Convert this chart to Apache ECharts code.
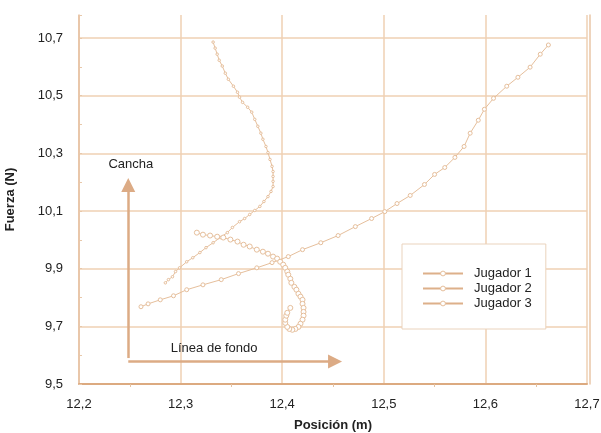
<!DOCTYPE html>
<html><head><meta charset="utf-8">
<script src="https://cdn.jsdelivr.net/npm/echarts@6/dist/echarts.min.js"></script>
<style>html,body{margin:0;padding:0;background:#fff}#c{width:601px;height:433px}</style>
</head><body><div id="c"></div>
<script>
const seriesNames = ['Jugador 1', 'Jugador 2', 'Jugador 3'];

const j1X = [12.662,12.654,12.644,12.632,12.621,12.608,12.599,12.593,12.585,12.579,12.570,12.560,12.550,12.540,12.526,12.513,12.501,12.488,12.472,12.455,12.438,12.420,12.406,12.390,12.375,12.357,12.340,12.322,12.306,12.293,12.280,12.268,12.261];
const j1Y = [10.676,10.644,10.599,10.564,10.533,10.491,10.453,10.415,10.370,10.324,10.286,10.251,10.227,10.192,10.154,10.126,10.098,10.074,10.046,10.015,9.990,9.966,9.942,9.921,9.903,9.883,9.862,9.844,9.827,9.806,9.792,9.778,9.768];

const j2X = [12.332,12.334,12.336,12.338,12.341,12.344,12.347,12.352,12.356,12.358,12.361,12.366,12.370,12.373,12.376,12.379,12.381,12.384,12.386,12.388,12.390,12.391,12.391,12.391,12.391,12.389,12.386,12.382,12.378,12.373,12.368,12.363,12.358,12.351,12.346,12.339,12.332,12.325,12.319,12.312,12.306,12.299,12.295,12.292,12.288,12.285];
const j2Y = [10.686,10.665,10.644,10.623,10.603,10.578,10.557,10.533,10.512,10.495,10.477,10.460,10.443,10.418,10.394,10.370,10.349,10.324,10.303,10.279,10.255,10.237,10.220,10.203,10.185,10.168,10.150,10.133,10.116,10.102,10.088,10.074,10.063,10.043,10.025,10.008,9.990,9.973,9.956,9.938,9.924,9.903,9.890,9.872,9.862,9.851];

const j3X = [12.316,12.322,12.329,12.336,12.342,12.349,12.356,12.362,12.368,12.375,12.381,12.386,12.391,12.395,12.398,12.401,12.403,12.405,12.406,12.408,12.409,12.412,12.414,12.416,12.418,12.420,12.420,12.421,12.421,12.421,12.420,12.418,12.416,12.413,12.410,12.407,12.405,12.403,12.403,12.404,12.405,12.408];
const j3Y = [10.025,10.018,10.015,10.011,10.008,10.001,9.994,9.983,9.977,9.966,9.959,9.952,9.942,9.935,9.924,9.914,9.903,9.890,9.879,9.865,9.851,9.837,9.827,9.813,9.803,9.792,9.778,9.764,9.750,9.737,9.723,9.709,9.698,9.691,9.688,9.691,9.698,9.712,9.723,9.737,9.747,9.764];

const xTickLabels = ['12,2','12,3','12,4','12,5','12,6','12,7'];
const yTickLabels = ['9,5','9,7','9,9','10,1','10,3','10,5','10,7'];

const annotationTexts = ['Cancha', 'Línea de fondo'];
const annotationPos = [[12.251, 10.262], [12.333, 9.622]];
const arrowUp = [[12.2485, 9.590], [12.2485, 10.190]];
const arrowRight = [[12.2485, 9.578], [12.452, 9.578]];

const fmt = v => v.toFixed(1).replace('.', ',');
const pairs = (xs, ys) => xs.map((x, i) => [x, ys[i]]);

const lineColor = '#e6bf9c';
const gridColor = '#efd0b3';
const font = 'Liberation Sans, Arial, Helvetica, sans-serif';

const chart = echarts.init(document.getElementById('c'), null, {renderer: 'canvas'});
const mk = (name, xs, ys, size) => ({
  name, type: 'line', data: pairs(xs, ys),
  symbol: 'circle', symbolSize: size, showSymbol: true,
  lineStyle: {color: lineColor, width: 1},
  itemStyle: {color: '#fff', borderColor: lineColor, borderWidth: 1},
  animation: false, z: 3
});

chart.setOption({
  animation: false,
  backgroundColor: '#fff',
  textStyle: {fontFamily: font},
  grid: {left: 79, right: 14, top: 15, bottom: 49, containLabel: false, outerBoundsMode: 'none'},
  legend: {
    data: seriesNames, orient: 'vertical', left: 402, top: 244,
    backgroundColor: '#fff', borderColor: '#ead3bd', borderWidth: 1,
    padding: [22, 14, 18, 20], itemGap: 0, itemWidth: 40, itemHeight: 6,
    textStyle: {fontSize: 13, lineHeight: 15, color: '#222', fontFamily: font, padding: [0, 0, 0, 6]},
    lineStyle: {width: 2, color: '#ddb08a'},
    itemStyle: {borderWidth: 1}
  },
  xAxis: {
    type: 'value', min: 12.2, max: 12.7, interval: 0.1,
    name: 'Posición (m)', nameLocation: 'middle', nameGap: 35,
    nameTextStyle: {fontWeight: 'bold', fontSize: 13, color: '#222', fontFamily: font},
    axisLine: {show: true, lineStyle: {color: '#dcaa80', width: 2}},
    axisTick: {show: false},
    minorTick: {show: true, splitNumber: 2, length: 3, lineStyle: {color: '#e5c2a2'}},
    axisLabel: {
      fontSize: 13, color: '#222', margin: 14, fontFamily: font,
      formatter: v => { const s = fmt(v); return xTickLabels.includes(s) ? s : ''; }
    },
    splitLine: {show: true, lineStyle: {color: gridColor, width: 1.5}}
  },
  yAxis: [{
    type: 'value', min: 9.5, max: 10.78, interval: 0.1,
    name: 'Fuerza (N)', nameLocation: 'middle', nameGap: 62, nameRotate: 90,
    nameTextStyle: {fontWeight: 'bold', fontSize: 13, color: '#222', fontFamily: font},
    axisLine: {show: true, lineStyle: {color: '#e6c0a0', width: 1.5}},
    axisTick: {show: true, inside: true, length: 3, lineStyle: {color: '#e8c8aa'}},
    axisLabel: {
      fontSize: 13, color: '#222', margin: 16, fontFamily: font,
      formatter: v => { const s = fmt(v); return (Math.abs(v * 10 - Math.round(v * 10)) < 1e-6 && yTickLabels.includes(s)) ? s : ''; }
    },
    splitLine: {show: true, lineStyle: {color: [gridColor, 'rgba(0,0,0,0)'], width: 1.5}}
  }, {
    type: 'value', min: 9.5, max: 10.78, position: 'right', offset: 3,
    axisLine: {show: true, lineStyle: {color: '#e8c6a7', width: 1.5}},
    axisTick: {show: false}, axisLabel: {show: false}, splitLine: {show: false}
  }],
  series: [
    mk(seriesNames[0], j1X, j1Y, 4),
    mk(seriesNames[1], j2X, j2Y, 2.5),
    mk(seriesNames[2], j3X, j3Y, 5),
    {
      name: 'anotaciones', type: 'line', data: [], silent: true, z: 2,
      markLine: {
        silent: true, animation: false,
        symbol: ['none', 'triangle'], symbolSize: 14,
        lineStyle: {color: '#dcab85', width: 2.5, type: 'solid'},
        itemStyle: {color: '#dcab85'},
        label: {show: false},
        data: [
          [{coord: arrowUp[0]}, {coord: arrowUp[1]}],
          [{coord: arrowRight[0]}, {coord: arrowRight[1]}]
        ]
      },
      markPoint: {
        silent: true, animation: false, symbol: 'circle', symbolSize: 0,
        label: {show: true, position: 'inside', formatter: '{b}', color: '#222', fontSize: 13, fontFamily: font},
        data: annotationTexts.map((t, i) => ({name: t, coord: annotationPos[i]}))
      }
    }
  ]
});
</script></body></html>
